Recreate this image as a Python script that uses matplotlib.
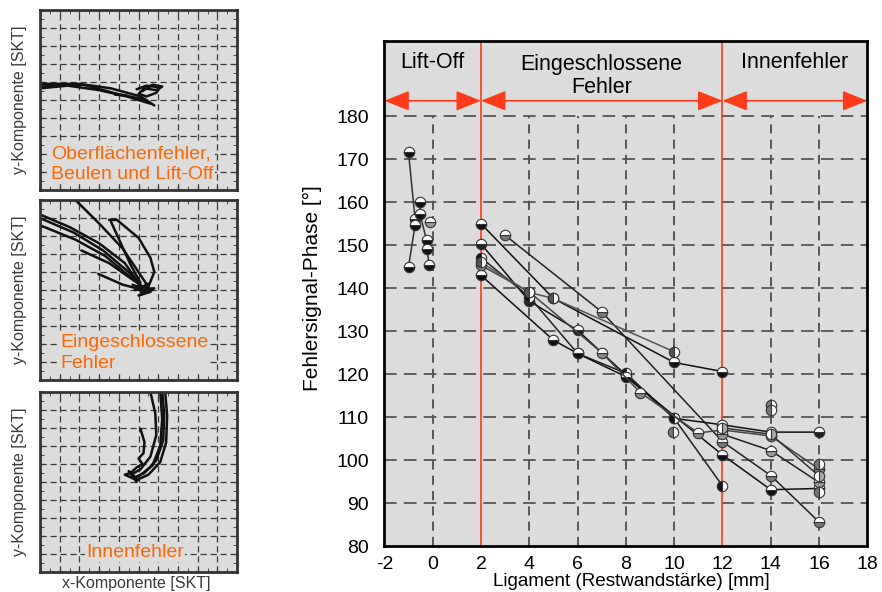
import matplotlib
matplotlib.use("Agg")
import matplotlib.pyplot as plt

plt.rcParams['font.family'] = ['Liberation Sans', 'DejaVu Sans']
plt.rcParams['axes.unicode_minus'] = False

# --- Hauptdiagramm: Phase ueber Ligament ---
lo1_x = [-1.0, -0.73, -0.73, -1.0]
lo1_y = [171.6, 156.1, 154.6, 145.0]
lo2_x = [-0.52, -0.53, -0.25, -0.25, -0.14]
lo2_y = [160.0, 157.3, 151.1, 149.2, 145.5]
lo3_x = [-0.1]
lo3_y = [155.4]

e1_x = [2, 5, 10, 12]
e1_y = [155.0, 137.6, 122.7, 120.6]
e2_x = [3, 7, 12, 14, 16]
e2_y = [152.3, 134.5, 104.3, 96.4, 85.6]
e3_x = [2, 4, 6, 8, 10, 12, 14, 16]
e3_y = [150.3, 137.0, 130.2, 119.8, 109.7, 108.2, 106.5, 106.5]
e4_x = [2, 4, 6, 8, 10, 12]
e4_y = [147.1, 138.0, 124.8, 120.2, 109.7, 94.0]
e5_x = [2, 5, 6, 8, 12, 14, 16]
e5_y = [143.0, 127.9, 124.8, 119.4, 101.2, 93.1, 93.4]
e6_x = [2, 4, 7, 8.6, 11, 12, 14, 16]
e6_y = [145.3, 139.1, 125.0, 115.7, 106.3, 107.0, 105.6, 97.9]
e7_x = [2, 4, 5, 10]
e7_y = [146.0, 139.0, 137.6, 125.2]
e8_x = [12, 14, 16]
e8_y = [106.0, 102.2, 94.8]
e9_x = [12, 14, 16]
e9_y = [107.5, 106.0, 96.3]
single_x = [9.97, 14, 14, 16, 16]
single_y = [106.6, 112.7, 111.6, 99.0, 92.5]

regions = ['Lift-Off', 'Eingeschlossene\nFehler', 'Innenfehler']
region_bounds = [-2, 2, 12, 18]

# --- kleine Ortskurven-Diagramme (Skalenteile 0..10) ---
p1_traces = [
    ([0, 2.0, 3.6, 5.1, 5.8], [5.9, 5.9, 5.65, 5.2, 4.7]),
    ([0, 1.4, 3.0, 4.4, 5.6], [5.65, 5.8, 5.55, 5.2, 4.8]),
    ([0, 2.2, 3.9, 5.4], [5.75, 5.85, 5.35, 5.0]),
    ([4.9, 5.4, 6.1, 5.9, 5.4, 5.0, 5.3, 5.9, 6.2, 5.7, 5.2],
     [5.6, 5.8, 5.7, 5.4, 5.2, 5.35, 5.65, 5.55, 5.75, 5.85, 5.5]),
    ([3.8, 4.4], [5.3, 5.25]),
]
p2_traces = [
    ([0, 1.5, 3.0, 4.3, 5.2], [9.2, 8.5, 7.6, 6.5, 5.1]),
    ([0, 1.7, 3.2, 4.5, 5.3], [9.0, 8.2, 7.2, 6.0, 5.0]),
    ([0, 1.8, 3.3, 4.6, 5.5], [8.6, 7.8, 6.9, 5.7, 4.9]),
    ([1.8, 3.0, 4.2, 5.0, 5.6], [10.0, 8.7, 7.3, 6.0, 5.0]),
    ([3.5, 3.9, 5.0, 5.6, 5.8, 5.5], [8.9, 8.9, 7.9, 6.8, 6.0, 5.2]),
    ([3.6, 4.1, 4.6, 5.1], [8.8, 7.6, 6.4, 5.4]),
    ([2.95, 4.2, 5.6], [5.9, 5.3, 4.9]),
    ([2.1, 3.5, 4.8], [7.2, 6.5, 5.5]),
    ([4.7, 5.6, 5.0, 5.8, 4.8, 5.5, 5.2, 4.9, 5.7],
     [5.3, 4.9, 4.7, 5.1, 5.0, 5.35, 4.8, 5.2, 5.0]),
]
p3_traces = [
    ([5.6, 5.85, 5.9, 5.6, 5.1, 4.7], [10, 8.8, 7.6, 6.4, 5.7, 5.45]),
    ([6.2, 6.3, 6.25, 5.9, 5.3, 4.9], [10, 8.8, 7.3, 6.2, 5.5, 5.3]),
    ([6.35, 6.45, 6.4, 6.1, 5.5, 5.0], [10, 8.7, 7.2, 6.1, 5.4, 5.15]),
    ([6.1, 6.2, 6.1, 5.7, 5.0], [10, 8.5, 7.0, 5.9, 5.3]),
    ([5.1, 5.3, 5.25, 5.0, 5.2, 4.9, 4.6, 4.3, 4.7, 5.0, 4.5, 4.9],
     [7.95, 7.2, 6.6, 6.3, 6.0, 5.8, 5.5, 5.4, 5.2, 5.1, 5.6, 5.0]),
]
panel_texts = ['Oberflächenfehler,\nBeulen und Lift-Off', 'Eingeschlossene\nFehler', 'Innenfehler']

fig = plt.figure(figsize=(8.82, 5.92), dpi=100)

orange = '#ff6600'
red = '#ff3b1a'
grau = '#dcdcdc'

# linke Spalte
panel_bottoms = [0.679, 0.358, 0.034]
panel_traces = [p1_traces, p2_traces, p3_traces]
text_pos = [(0.55, 1.45, 'left'), (1.05, 1.5, 'left'), (4.82, 1.1, 'center')]
for i in range(3):
    pa = fig.add_axes([0.0454, panel_bottoms[i], 0.2234, 0.304])
    pa.set_facecolor(grau)
    pa.set_xlim(0, 10)
    pa.set_ylim(0, 10)
    for k in range(1, 10):
        pa.plot([k, k], [0, 10], color='#3a3a3a', lw=0.9, ls=(0, (5, 3)))
        pa.plot([0, 10], [k, k], color='#3a3a3a', lw=0.9, ls=(0, (5, 3)))
    pa.set_xticks(range(11))
    pa.set_yticks(range(11))
    pa.set_xticks([k + 0.5 for k in range(10)], minor=True)
    pa.set_yticks([k + 0.5 for k in range(10)], minor=True)
    pa.tick_params(which='both', direction='in', top=True, right=True,
                   labelbottom=False, labelleft=False, length=3, color='#333333')
    for s in pa.spines.values():
        s.set_linewidth(2)
        s.set_color('#333333')
    for tx, ty in panel_traces[i]:
        pa.plot(tx, ty, color='#111111', lw=1.8, solid_capstyle='round')
    x0, y0, ha = text_pos[i]
    pa.text(x0, y0, panel_texts[i], color=orange, fontsize=14, ha=ha, va='center',
            linespacing=1.25, zorder=5,
            bbox=dict(facecolor=grau, edgecolor='none', pad=1))
    fig.text(0.022, panel_bottoms[i] + 0.152, 'y-Komponente [SKT]', rotation=90,
             ha='center', va='center', fontsize=11.5, color='#3a3a3a')
fig.text(0.155, 0.015, 'x-Komponente [SKT]', ha='center', va='center',
         fontsize=11.5, color='#3a3a3a')

# Hauptdiagramm
ax = fig.add_axes([0.4358, 0.0777, 0.5476, 0.853])
ax.set_facecolor(grau)
ax.set_xlim(-2, 18)
ax.set_ylim(80, 197.5)
ax.set_xticks(range(-2, 19, 2))
ax.set_yticks(range(80, 181, 10))
ax.tick_params(axis='both', length=0, labelsize=14)
ax.tick_params(axis='x', pad=7)
ax.tick_params(axis='y', pad=11)
for s in ax.spines.values():
    s.set_linewidth(2)

for xv in [0, 4, 6, 8, 10, 14, 16]:
    ax.plot([xv, xv], [80, 180], color='#333333', lw=1.1, ls=(0, (6, 4)), zorder=1)
for yv in range(90, 181, 10):
    ax.plot([-2, 18], [yv, yv], color='#555555', lw=1.3, ls=(0, (7, 4)), zorder=1)
for xv in [2, 12]:
    ax.axvline(xv, color=red, lw=1.2, zorder=1.5)

for a, b in zip(region_bounds[:-1], region_bounds[1:]):
    ax.annotate('', xy=(b, 183.6), xytext=(a, 183.6),
                arrowprops=dict(arrowstyle='<|-|>,head_length=0.7,head_width=0.28',
                                color=red, lw=1.2, mutation_scale=22,
                                shrinkA=0, shrinkB=0))
ax.text(0, 192.4, regions[0], ha='center', va='center', fontsize=15.5)
ax.text(7, 189.4, regions[1], ha='center', va='center', fontsize=15.5, linespacing=1.15)
ax.text(15, 192.4, regions[2], ha='center', va='center', fontsize=15.5)

mk = dict(marker='o', markersize=7.5, markeredgewidth=0.8, markeredgecolor='#333333',
          markerfacecoloralt='white')
series = [
    (lo1_x, lo1_y, '#333333', '#111111', 'bottom'),
    (lo2_x, lo2_y, '#333333', '#111111', 'bottom'),
    (e1_x, e1_y, '#111111', '#111111', 'bottom'),
    (e2_x, e2_y, '#222222', '#777777', 'bottom'),
    (e3_x, e3_y, '#111111', '#222222', 'bottom'),
    (e4_x, e4_y, '#222222', '#111111', 'left'),
    (e5_x, e5_y, '#111111', '#111111', 'bottom'),
    (e6_x, e6_y, '#444444', '#888888', 'bottom'),
    (e7_x, e7_y, '#555555', '#555555', 'left'),
    (e8_x, e8_y, '#222222', '#999999', 'bottom'),
    (e9_x, e9_y, '#333333', '#aaaaaa', 'right'),
]
for xs, ys, lc, fc, fs in series:
    ax.plot(xs, ys, color=lc, lw=1.1, markerfacecolor=fc, fillstyle=fs, zorder=3, **mk)
ax.plot(lo3_x, lo3_y, ls='none', markerfacecolor='#999999', fillstyle='bottom', zorder=3, **mk)
ax.plot(single_x, single_y, ls='none', markerfacecolor='#777777', fillstyle='left', zorder=3, **mk)

fig.text(312 / 882, 0.5135, 'Fehlersignal-Phase [°]', rotation=90, ha='center',
         va='center', fontsize=15)
fig.text(631 / 882, 1 - 581 / 592, 'Ligament (Restwandstärke) [mm]', ha='center',
         va='center', fontsize=13.6)

fig.savefig('out.png', dpi=100)
